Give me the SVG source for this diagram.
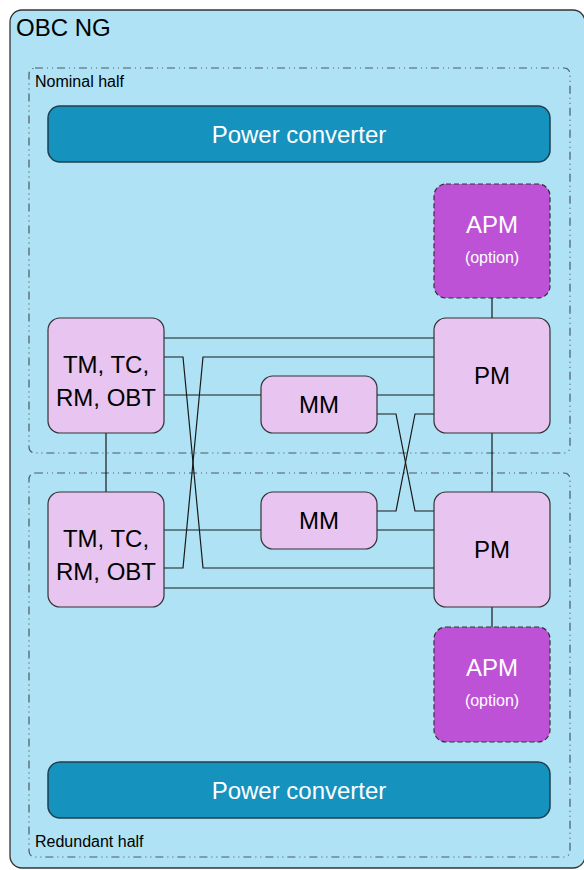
<svg xmlns="http://www.w3.org/2000/svg" width="584" height="870" viewBox="0 0 584 870">
<style>
text{font-family:"Liberation Sans",Arial,sans-serif}
.half{fill:none;stroke:#4a5a63;stroke-width:1.2;stroke-dasharray:8 4 1 4 1 4}
.node{fill:#e8c4f1;stroke:#333;stroke-width:1.2}
.pc{fill:#1592be;stroke:#1f3f4f;stroke-width:1.5}
.apm{fill:#bd52d6;stroke:#333;stroke-width:1.2;stroke-dasharray:5 3}
.lbl{font-size:24px;fill:#000;text-anchor:middle}
.wl{font-size:24px;fill:#fff;text-anchor:middle}
.opt{font-size:16px;fill:#fff;text-anchor:middle}
.conn{fill:none;stroke:#1a1a1a;stroke-width:1.2}
</style>
<g id="obc">
<rect x="10" y="10" width="575" height="858" rx="12" fill="#aee2f4" stroke="#333" stroke-width="1.3"/>
<text x="16" y="36" font-size="24" fill="#000">OBC NG</text>
</g>
<g id="nominal-half">
<rect class="half" x="29" y="68" width="541" height="385" rx="6"/>
<text x="35" y="87" font-size="16" fill="#000">Nominal half</text>
</g>
<g id="redundant-half">
<rect class="half" x="29" y="473" width="541" height="384" rx="6"/>
<text x="35" y="847" font-size="16" fill="#000">Redundant half</text>
</g>
<g id="connectors">
<path class="conn" d="M106 433V492M492 433V492M492 298V318M492 607V627"/>
<path class="conn" d="M164 338H434"/>
<path class="conn" d="M164 357H183L203 568H434"/>
<path class="conn" d="M164 568H183L203 357H434"/>
<path class="conn" d="M164 395H261M377 395H434"/>
<path class="conn" d="M377 414H396L415 511H434"/>
<path class="conn" d="M377 511H396L415 414H434"/>
<path class="conn" d="M164 530H261M377 530H434"/>
<path class="conn" d="M164 588H434"/>
</g>
<g id="pc-nominal">
<rect class="pc" x="48" y="106" width="502" height="56" rx="12"/>
<text class="wl" x="299" y="143">Power converter</text>
</g>
<g id="apm-nominal">
<rect class="apm" x="434" y="184" width="116" height="114" rx="12"/>
<text class="wl" x="492" y="233">APM</text>
<text class="opt" x="492" y="263">(option)</text>
</g>
<g id="tm-nominal">
<rect class="node" x="48" y="318" width="116" height="115" rx="12"/>
<text class="lbl" x="106" y="373">TM, TC,</text>
<text class="lbl" x="106" y="406">RM, OBT</text>
</g>
<g id="mm-nominal">
<rect class="node" x="261" y="376" width="116" height="57" rx="12"/>
<text class="lbl" x="319" y="413">MM</text>
</g>
<g id="pm-nominal">
<rect class="node" x="434" y="318" width="116" height="115" rx="12"/>
<text class="lbl" x="492" y="384">PM</text>
</g>
<g id="tm-redundant">
<rect class="node" x="48" y="492" width="116" height="115" rx="12"/>
<text class="lbl" x="106" y="547">TM, TC,</text>
<text class="lbl" x="106" y="580">RM, OBT</text>
</g>
<g id="mm-redundant">
<rect class="node" x="261" y="492" width="116" height="57" rx="12"/>
<text class="lbl" x="319" y="529">MM</text>
</g>
<g id="pm-redundant">
<rect class="node" x="434" y="492" width="116" height="115" rx="12"/>
<text class="lbl" x="492" y="558">PM</text>
</g>
<g id="apm-redundant">
<rect class="apm" x="434" y="627" width="116" height="115" rx="12"/>
<text class="wl" x="492" y="676">APM</text>
<text class="opt" x="492" y="706">(option)</text>
</g>
<g id="pc-redundant">
<rect class="pc" x="48" y="762" width="502" height="56" rx="12"/>
<text class="wl" x="299" y="799">Power converter</text>
</g>
</svg>
